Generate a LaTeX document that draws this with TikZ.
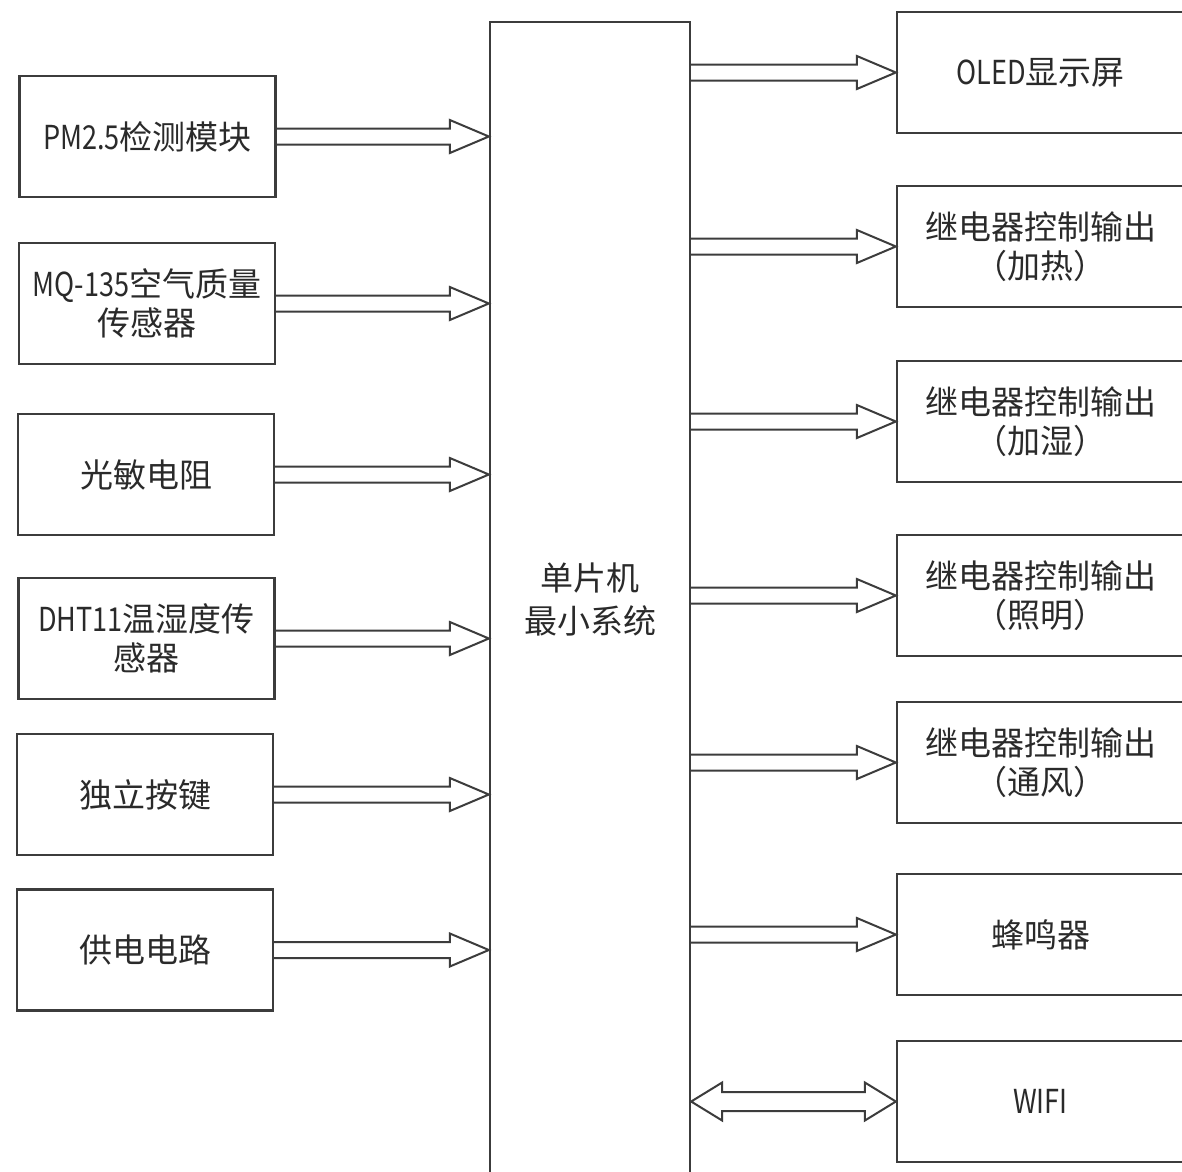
\documentclass[tikz,border=0pt]{standalone}
\usepackage{fontspec}
\usepackage{graphicx}
\setmainfont{Noto Sans CJK SC}
\usetikzlibrary{calc}
\definecolor{lc}{HTML}{3C3C3C}
\definecolor{tc}{HTML}{2A2A2A}
\newcommand\hw[1]{\scalebox{0.82}[1]{#1}}
\newcommand\barrow[2]{%
  \draw[conn] ($(#1)+(0,-8)$) -- ($(#2)+(-39,-8)$) -- ($(#2)+(-39,-16.5)$) -- (#2)
    -- ($(#2)+(-39,16.5)$) -- ($(#2)+(-39,8)$) -- ($(#1)+(0,8)$);}
\newcommand\dbarrow[2]{%
  \draw[conn] ($(#1)+(31,-9.5)$) -- ($(#2)+(-31,-9.5)$) -- ($(#2)+(-31,-19)$) -- (#2)
    -- ($(#2)+(-31,19)$) -- ($(#2)+(-31,9.5)$) -- ($(#1)+(31,9.5)$)
    -- ($(#1)+(31,19)$) -- (#1) -- ($(#1)+(31,-19)$) -- cycle;}
\begin{document}
\begin{tikzpicture}[x=1pt,y=-1pt,
  box/.style={draw=lc, line width=2.3pt, minimum width=256pt, minimum height=121pt,
    inner sep=0pt, align=center, text=tc, font=\fontsize{33}{39}\selectfont},
  rbox/.style={box, minimum width=287pt},
  mcubox/.style={box, minimum width=200pt, minimum height=1154pt, font=\fontsize{33}{43}\selectfont},
  conn/.style={draw=lc, line width=2pt, line join=miter}]
\clip (0,0) rectangle (1182,1171);
\fill[white] (0,0) rectangle (1182,1171);
% MCU
\node[mcubox] (mcu) at (590,599) {单片机\\最小系统};
% left
\node[box] (l1) at (147.5,136.5) {\hw{PM2.5}检测模块};
\node[box] (l2) at (147,303.5) {\hw{MQ-135}空气质量\\传感器};
\node[box] (l3) at (146,474.5) {光敏电阻};
\node[box] (l4) at (146.5,638.5) {\hw{DHT11}温湿度传\\感器};
\node[box] (l5) at (145,794.5) {独立按键};
\node[box] (l6) at (145,950) {供电电路};
% right
\node[rbox] (r1) at (1040.5,72.5) {\hw{OLED}显示屏};
\node[rbox] (r2) at (1040.5,246.5) {继电器控制输出\\（加热）};
\node[rbox] (r3) at (1040.5,421.5) {继电器控制输出\\（加湿）};
\node[rbox] (r4) at (1040.5,595.5) {继电器控制输出\\（照明）};
\node[rbox] (r5) at (1040.5,762.5) {继电器控制输出\\（通风）};
\node[rbox] (r6) at (1040.5,934.5) {蜂鸣器};
\node[rbox] (r7) at (1040.5,1101.5) {\hw{WIFI}};
% left arrows
\foreach \i in {1,...,6}{
  \coordinate (ls\i) at (l\i.east);
  \coordinate (le\i) at (mcu.west |- l\i.east);
  \barrow{ls\i}{le\i}
}
% right arrows
\foreach \i in {1,...,6}{
  \coordinate (rs\i) at (mcu.east |- r\i.west);
  \coordinate (re\i) at (r\i.west);
  \barrow{rs\i}{re\i}
}
\coordinate (rs7) at (mcu.east |- r7.west);
\coordinate (re7) at (r7.west);
\dbarrow{rs7}{re7}
\end{tikzpicture}
\end{document}
